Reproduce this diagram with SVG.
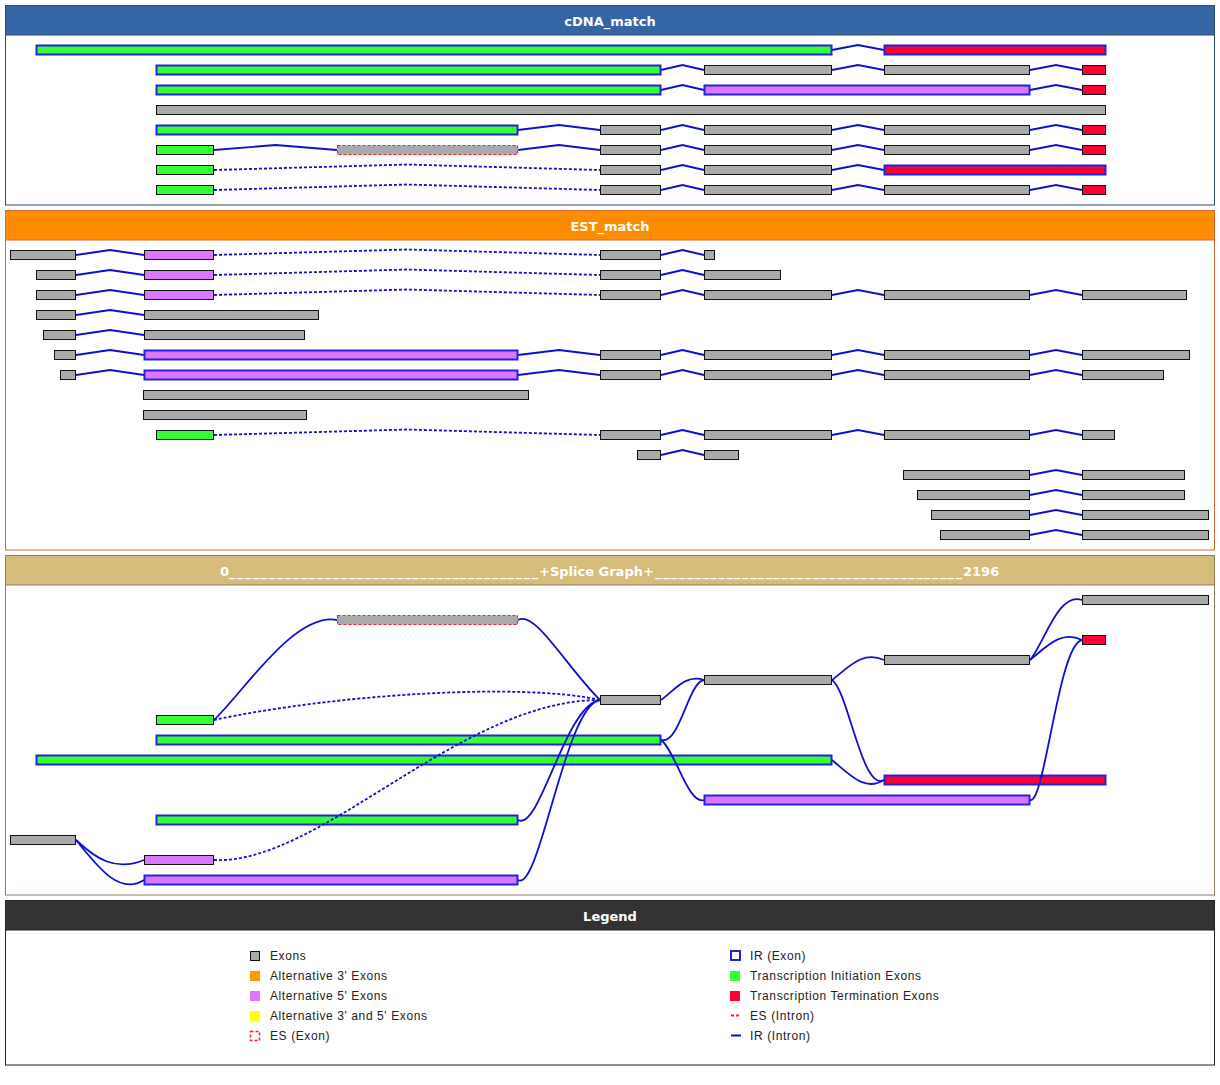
<svg xmlns="http://www.w3.org/2000/svg" width="1220" height="1085" viewBox="0 0 1220 1085">
<style>
.hd{font-family:"DejaVu Sans",sans-serif;font-weight:bold;font-size:13px;fill:#fff;text-anchor:middle}
.hs{font-family:"DejaVu Sans",sans-serif;font-weight:bold;font-size:13px;fill:#fff}
.lg{font-family:"Liberation Sans",Arial,sans-serif;font-size:12px;letter-spacing:0.6px;fill:#222}
rect.b{stroke:#111;stroke-width:1}
.g{fill:#aaaaaa}
.gr{fill:#33ff33}
.rd{fill:#ff0033}
.pu{fill:#dd77ff}
rect.ir{stroke:#2222dd;stroke-width:2}
rect.es{fill:#aaaaaa;stroke:#ee2222;stroke-width:1.2;stroke-dasharray:3 2}
.in{fill:none;stroke:#1010cc;stroke-width:1.8}
.dsh{stroke-dasharray:3 2}
</style>
<rect width="1220" height="1085" fill="#fff"/>

<!-- cDNA panel -->
<g id="panel-cdna">
<rect x="5.5" y="5.5" width="1209" height="199.5" fill="#fff" stroke="#2e4d6e"/>
<rect x="5.5" y="5.5" width="1209" height="29.5" fill="#3465a4" stroke="#2e4d6e"/>
<text class="hd" x="610" y="26">cDNA_match</text>
</g>
<g id="cdna-connectors">
<path class="in" d="M832,50L858,45L884,50"/>
<path class="in" d="M661,70L682.5,65L704,70M832,70L858,65L884,70M1030,70L1056,65L1082,70"/>
<path class="in" d="M661,90L682.5,85L704,90M1030,90L1056,85L1082,90"/>
<path class="in" d="M518,130L559,125L600,130M661,130L682.5,125L704,130M832,130L858,125L884,130M1030,130L1056,125L1082,130"/>
<path class="in" d="M214,150L275.5,145L337,150M518,150L559,145L600,150M661,150L682.5,145L704,150M832,150L858,145L884,150M1030,150L1056,145L1082,150"/>
<path class="in dsh" d="M214,170L407,164.5L600,170"/>
<path class="in" d="M661,170L682.5,165L704,170M832,170L858,165L884,170"/>
<path class="in dsh" d="M214,190L407,184.5L600,190"/>
<path class="in" d="M661,190L682.5,185L704,190M832,190L858,185L884,190M1030,190L1056,185L1082,190"/>
</g>
<g id="cdna-row1">
<rect class="gr ir" x="36.5" y="45.5" width="795" height="9"/>
<rect class="rd ir" x="884.5" y="45.5" width="221" height="9"/>
</g>
<g id="cdna-row2">
<rect class="gr ir" x="156.5" y="65.5" width="504" height="9"/>
<rect class="g b" x="704.5" y="65.5" width="127" height="9"/>
<rect class="g b" x="884.5" y="65.5" width="145" height="9"/>
<rect class="rd b" x="1082.5" y="65.5" width="23" height="9"/>
</g>
<g id="cdna-row3">
<rect class="gr ir" x="156.5" y="85.5" width="504" height="9"/>
<rect class="pu ir" x="704.5" y="85.5" width="325" height="9"/>
<rect class="rd b" x="1082.5" y="85.5" width="23" height="9"/>
</g>
<g id="cdna-row4">
<rect class="g b" x="156.5" y="105.5" width="949" height="9"/>
</g>
<g id="cdna-row5">
<rect class="gr ir" x="156.5" y="125.5" width="361" height="9"/>
<rect class="g b" x="600.5" y="125.5" width="60" height="9"/>
<rect class="g b" x="704.5" y="125.5" width="127" height="9"/>
<rect class="g b" x="884.5" y="125.5" width="145" height="9"/>
<rect class="rd b" x="1082.5" y="125.5" width="23" height="9"/>
</g>
<g id="cdna-row6">
<rect class="gr b" x="156.5" y="145.5" width="57" height="9"/>
<rect class="es" x="337.5" y="145.5" width="180" height="9"/>
<rect class="g b" x="600.5" y="145.5" width="60" height="9"/>
<rect class="g b" x="704.5" y="145.5" width="127" height="9"/>
<rect class="g b" x="884.5" y="145.5" width="145" height="9"/>
<rect class="rd b" x="1082.5" y="145.5" width="23" height="9"/>
</g>
<g id="cdna-row7">
<rect class="gr b" x="156.5" y="165.5" width="57" height="9"/>
<rect class="g b" x="600.5" y="165.5" width="60" height="9"/>
<rect class="g b" x="704.5" y="165.5" width="127" height="9"/>
<rect class="rd ir" x="884.5" y="165.5" width="221" height="9"/>
</g>
<g id="cdna-row8">
<rect class="gr b" x="156.5" y="185.5" width="57" height="9"/>
<rect class="g b" x="600.5" y="185.5" width="60" height="9"/>
<rect class="g b" x="704.5" y="185.5" width="127" height="9"/>
<rect class="g b" x="884.5" y="185.5" width="145" height="9"/>
<rect class="rd b" x="1082.5" y="185.5" width="23" height="9"/>
</g>

<!-- EST panel -->
<g id="panel-est">
<rect x="5.5" y="210.5" width="1209" height="339.5" fill="#fff" stroke="#d06a30"/>
<rect x="5.5" y="210.5" width="1209" height="29.5" fill="#ff8c00" stroke="#d06a30"/>
<text class="hd" x="610" y="231">EST_match</text>
</g>
<g id="est-connectors">
<path class="in" d="M76,255L110,250L144,255M661,255L682.5,250L704,255"/>
<path class="in dsh" d="M214,255L407,249.5L600,255"/>
<path class="in" d="M76,275L110,270L144,275M661,275L682.5,270L704,275"/>
<path class="in dsh" d="M214,275L407,269.5L600,275"/>
<path class="in" d="M76,295L110,290L144,295M661,295L682.5,290L704,295M832,295L858,290L884,295M1030,295L1056,290L1082,295"/>
<path class="in dsh" d="M214,295L407,289.5L600,295"/>
<path class="in" d="M76,315L110,310L144,315"/>
<path class="in" d="M76,335L110,330L144,335"/>
<path class="in" d="M76,355L110,350L144,355M518,355L559,350L600,355M661,355L682.5,350L704,355M832,355L858,350L884,355M1030,355L1056,350L1082,355"/>
<path class="in" d="M76,375L110,370L144,375M518,375L559,370L600,375M661,375L682.5,370L704,375M832,375L858,370L884,375M1030,375L1056,370L1082,375"/>
<path class="in dsh" d="M214,435L407,429.5L600,435"/>
<path class="in" d="M661,435L682.5,430L704,435M832,435L858,430L884,435M1030,435L1056,430L1082,435"/>
<path class="in" d="M661,455L682.5,450L704,455"/>
<path class="in" d="M1030,475L1056,470L1082,475M1030,495L1056,490L1082,495M1030,515L1056,510L1082,515M1030,535L1056,530L1082,535"/>
</g>
<g id="est-row1">
<rect class="g b" x="10.5" y="250.5" width="65" height="9"/>
<rect class="pu b" x="144.5" y="250.5" width="69" height="9"/>
<rect class="g b" x="600.5" y="250.5" width="60" height="9"/>
<rect class="g b" x="704.5" y="250.5" width="10" height="9"/>
</g>
<g id="est-row2">
<rect class="g b" x="36.5" y="270.5" width="39" height="9"/>
<rect class="pu b" x="144.5" y="270.5" width="69" height="9"/>
<rect class="g b" x="600.5" y="270.5" width="60" height="9"/>
<rect class="g b" x="704.5" y="270.5" width="76" height="9"/>
</g>
<g id="est-row3">
<rect class="g b" x="36.5" y="290.5" width="39" height="9"/>
<rect class="pu b" x="144.5" y="290.5" width="69" height="9"/>
<rect class="g b" x="600.5" y="290.5" width="60" height="9"/>
<rect class="g b" x="704.5" y="290.5" width="127" height="9"/>
<rect class="g b" x="884.5" y="290.5" width="145" height="9"/>
<rect class="g b" x="1082.5" y="290.5" width="104" height="9"/>
</g>
<g id="est-row4">
<rect class="g b" x="36.5" y="310.5" width="39" height="9"/>
<rect class="g b" x="144.5" y="310.5" width="174" height="9"/>
</g>
<g id="est-row5">
<rect class="g b" x="43.5" y="330.5" width="32" height="9"/>
<rect class="g b" x="144.5" y="330.5" width="160" height="9"/>
</g>
<g id="est-row6">
<rect class="g b" x="54.5" y="350.5" width="21" height="9"/>
<rect class="pu ir" x="144.5" y="350.5" width="373" height="9"/>
<rect class="g b" x="600.5" y="350.5" width="60" height="9"/>
<rect class="g b" x="704.5" y="350.5" width="127" height="9"/>
<rect class="g b" x="884.5" y="350.5" width="145" height="9"/>
<rect class="g b" x="1082.5" y="350.5" width="107" height="9"/>
</g>
<g id="est-row7">
<rect class="g b" x="60.5" y="370.5" width="15" height="9"/>
<rect class="pu ir" x="144.5" y="370.5" width="373" height="9"/>
<rect class="g b" x="600.5" y="370.5" width="60" height="9"/>
<rect class="g b" x="704.5" y="370.5" width="127" height="9"/>
<rect class="g b" x="884.5" y="370.5" width="145" height="9"/>
<rect class="g b" x="1082.5" y="370.5" width="81" height="9"/>
</g>
<g id="est-row8">
<rect class="g b" x="143.5" y="390.5" width="385" height="9"/>
</g>
<g id="est-row9">
<rect class="g b" x="143.5" y="410.5" width="163" height="9"/>
</g>
<g id="est-row10">
<rect class="gr b" x="156.5" y="430.5" width="57" height="9"/>
<rect class="g b" x="600.5" y="430.5" width="60" height="9"/>
<rect class="g b" x="704.5" y="430.5" width="127" height="9"/>
<rect class="g b" x="884.5" y="430.5" width="145" height="9"/>
<rect class="g b" x="1082.5" y="430.5" width="32" height="9"/>
</g>
<g id="est-row11">
<rect class="g b" x="637.5" y="450.5" width="23" height="9"/>
<rect class="g b" x="704.5" y="450.5" width="34" height="9"/>
</g>
<g id="est-row12">
<rect class="g b" x="903.5" y="470.5" width="126" height="9"/>
<rect class="g b" x="1082.5" y="470.5" width="102" height="9"/>
</g>
<g id="est-row13">
<rect class="g b" x="917.5" y="490.5" width="112" height="9"/>
<rect class="g b" x="1082.5" y="490.5" width="102" height="9"/>
</g>
<g id="est-row14">
<rect class="g b" x="931.5" y="510.5" width="98" height="9"/>
<rect class="g b" x="1082.5" y="510.5" width="126" height="9"/>
</g>
<g id="est-row15">
<rect class="g b" x="940.5" y="530.5" width="89" height="9"/>
<rect class="g b" x="1082.5" y="530.5" width="126" height="9"/>
</g>

<!-- Splice graph panel -->
<g id="panel-splice">
<rect x="5.5" y="555.5" width="1209" height="339.5" fill="#fff" stroke="#8a7d62"/>
<rect x="5.5" y="555.5" width="1209" height="29.5" fill="#d6bb7b" stroke="#8a7d62"/>
<text class="hs" y="576"><tspan x="220">0</tspan><tspan x="229" textLength="309" lengthAdjust="spacing">_______________________________________</tspan><tspan x="539">+Splice Graph+</tspan><tspan x="655" textLength="307" lengthAdjust="spacing">_______________________________________</tspan><tspan x="963">2196</tspan></text>
</g>
<g id="sg-es-337"><rect class="es" x="337.5" y="615.5" width="180" height="9"/></g>
<g id="sg-gray-600"><rect class="g b" x="600.5" y="695.5" width="60" height="9"/></g>
<g id="sg-green-156-214"><rect class="gr b" x="156.5" y="715.5" width="57" height="9"/></g>
<g id="sg-green-156-661"><rect class="gr ir" x="156.5" y="735.5" width="504" height="9"/></g>
<g id="sg-green-36-832"><rect class="gr ir" x="36.5" y="755.5" width="795" height="9"/></g>
<g id="sg-green-156-518"><rect class="gr ir" x="156.5" y="815.5" width="361" height="9"/></g>
<g id="sg-gray-10"><rect class="g b" x="10.5" y="835.5" width="65" height="9"/></g>
<g id="sg-purple-144-214"><rect class="pu b" x="144.5" y="855.5" width="69" height="9"/></g>
<g id="sg-purple-144-518"><rect class="pu ir" x="144.5" y="875.5" width="373" height="9"/></g>
<g id="sg-gray-704"><rect class="g b" x="704.5" y="675.5" width="127" height="9"/></g>
<g id="sg-gray-884"><rect class="g b" x="884.5" y="655.5" width="145" height="9"/></g>
<g id="sg-gray-1082"><rect class="g b" x="1082.5" y="595.5" width="126" height="9"/></g>
<g id="sg-red-1082"><rect class="rd b" x="1082.5" y="635.5" width="23" height="9"/></g>
<g id="sg-red-884"><rect class="rd ir" x="884.5" y="775.5" width="221" height="9"/></g>
<g id="sg-purple-704"><rect class="pu ir" x="704.5" y="795.5" width="325" height="9"/></g>
<g id="sg-connectors">
<path class="in" d="M214,720C245,690 295,612 337,620"/>
<path class="in dsh" d="M214,720C330,695 520,682 600,700"/>
<path class="in" d="M518,620C535,610 565,665 600,700"/>
<path class="in dsh" d="M214,860C320,865 460,700 600,700"/>
<path class="in" d="M518,820C540,832 565,705 600,700"/>
<path class="in" d="M518,880C540,892 565,705 600,700"/>
<path class="in" d="M76,840C95,858 115,872 144,860"/>
<path class="in" d="M76,840C100,870 120,895 144,880"/>
<path class="in" d="M661,700C675,690 685,674 704,680"/>
<path class="in" d="M661,740C680,745 688,682 704,680"/>
<path class="in" d="M661,740C675,750 688,805 704,800"/>
<path class="in" d="M832,680C848,668 862,650 884,660"/>
<path class="in" d="M832,680C848,690 862,792 884,780"/>
<path class="in" d="M832,760C850,775 865,792 884,780"/>
<path class="in" d="M1030,660C1045,642 1058,592 1082,600"/>
<path class="in" d="M1030,660C1048,645 1062,630 1082,640"/>
<path class="in" d="M1030,800C1045,805 1058,645 1082,640"/>
</g>

<!-- Legend -->
<g id="legend">
<rect x="5.5" y="900.5" width="1209" height="164.5" fill="#fff" stroke="#222"/>
<rect x="5.5" y="900.5" width="1209" height="29.5" fill="#333333" stroke="#222"/>
<text class="hd" x="610" y="921">Legend</text>
<rect x="250.5" y="951.5" width="9" height="9" fill="#aaaaaa" stroke="#111"/>
<text class="lg" x="270" y="960">Exons</text>
<rect x="250" y="971" width="10" height="10" fill="#ff9900"/>
<text class="lg" x="270" y="980">Alternative 3' Exons</text>
<rect x="250" y="991" width="10" height="10" fill="#dd77ff"/>
<text class="lg" x="270" y="1000">Alternative 5' Exons</text>
<rect x="250" y="1011" width="10" height="10" fill="#ffff00"/>
<text class="lg" x="270" y="1020">Alternative 3' and 5' Exons</text>
<rect x="250.5" y="1031.5" width="9" height="9" fill="none" stroke="#ee2222" stroke-width="1.5" stroke-dasharray="3 2"/>
<text class="lg" x="270" y="1040">ES (Exon)</text>
<rect x="731" y="951" width="9" height="9" fill="#fff" stroke="#2222dd" stroke-width="2"/>
<text class="lg" x="750" y="960">IR (Exon)</text>
<rect x="730" y="971" width="10" height="10" fill="#33ff33"/>
<text class="lg" x="750" y="980">Transcription Initiation Exons</text>
<rect x="730" y="991" width="10" height="10" fill="#ff0033"/>
<text class="lg" x="750" y="1000">Transcription Termination Exons</text>
<line x1="731" y1="1015.5" x2="741" y2="1015.5" stroke="#ee2222" stroke-width="2" stroke-dasharray="3 2"/>
<text class="lg" x="750" y="1020">ES (Intron)</text>
<line x1="731" y1="1035.5" x2="741" y2="1035.5" stroke="#1010cc" stroke-width="2"/>
<text class="lg" x="750" y="1040">IR (Intron)</text>
</g>
</svg>
